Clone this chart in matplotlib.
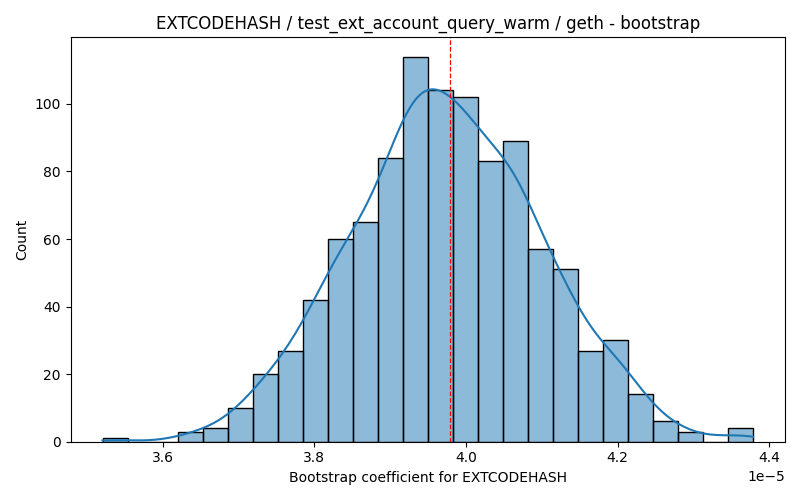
import numpy as np
import matplotlib
matplotlib.use("Agg")
import matplotlib.pyplot as plt
import seaborn as sns

# bootstrap histogram (26 bins)
x_min = 3.5215e-5
x_max = 4.378e-5
counts = [1, 0, 0, 3, 4, 10, 20, 27, 42, 60, 65, 84, 114,
          104, 102, 83, 89, 57, 51, 27, 30, 14, 6, 3, 0, 4]
estimate = 3.979e-5

edges = np.linspace(x_min, x_max, len(counts) + 1)
centers = (edges[:-1] + edges[1:]) / 2
samples = np.repeat(centers, counts)

fig, ax = plt.subplots(figsize=(8, 5), dpi=100)
# samples sit on bin centres, so let the kde run out half a bin to the edges
sns.histplot(samples, bins=edges, kde=True, edgecolor="black",
             kde_kws={"cut": 0.55}, ax=ax)
ax.axvline(estimate, color="red", linestyle="--", linewidth=0.9)
pad = 0.05 * (x_max - x_min)
ax.set_xlim(x_min - pad, x_max + pad)
ax.set_title("EXTCODEHASH / test_ext_account_query_warm / geth - bootstrap")
ax.set_xlabel("Bootstrap coefficient for EXTCODEHASH")
ax.set_ylabel("Count")
plt.tight_layout()
plt.savefig("out.png")
